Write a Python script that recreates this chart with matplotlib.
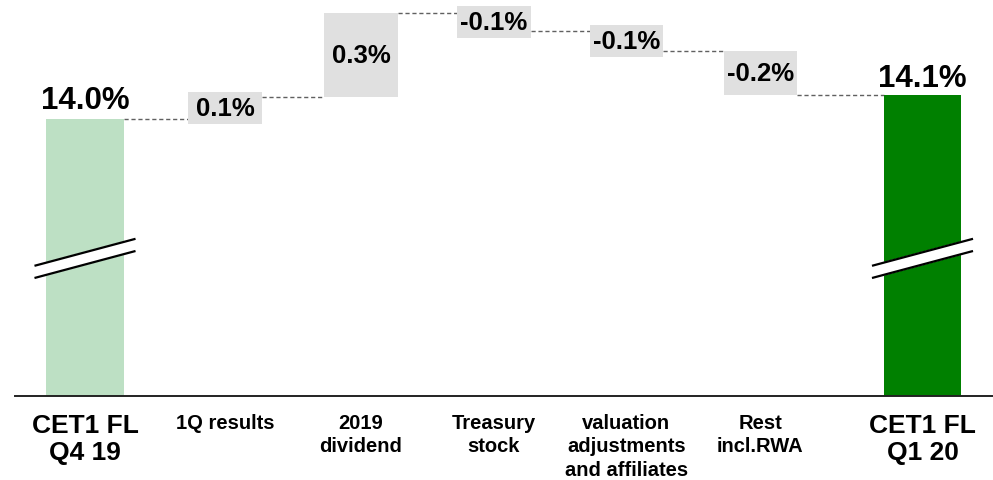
import matplotlib
matplotlib.use("Agg")
import matplotlib.pyplot as plt

plt.rcParams['font.family'] = ['Liberation Sans', 'DejaVu Sans']

# chart data
categories = ["CET1 FL\nQ4 19", "1Q results", "2019\ndividend", "Treasury\nstock",
              "valuation\nadjustments\nand affiliates", "Rest\nincl.RWA", "CET1 FL\nQ1 20"]
start_value = 14.04
deltas = [0.08, 0.30, -0.066, -0.07, -0.16]
end_value = start_value + sum(deltas)

# layout (category slot positions, not data)
xpos = [0, 1.045, 2.06, 3.05, 4.04, 5.04, 6.25]
PX = 280.0  # pixels per percentage point
end_w = 0.58
box_w = 0.55
min_box = 32 / PX

light_green = '#bde0c4'
dark_green = '#008000'
box_gray = '#e0e0e0'
line_gray = '#606060'

fig = plt.figure(figsize=(9.93, 4.81), dpi=100)
ax = fig.add_axes([15 / 993, 1 - 397 / 481, 978 / 993, 397 / 481])

ytop = start_value + 120 / PX
ax.set_ylim(ytop - 397 / PX, ytop)
ax.set_xlim((15 - 85) / 134, (993 - 85) / 134)

# start and end bars
ax.bar(xpos[0], start_value, width=end_w, color=light_green, zorder=2)
ax.bar(xpos[-1], end_value, width=end_w, color=dark_green, zorder=2)

ax.annotate(f"{start_value:.1f}%", xy=(xpos[0], start_value), xytext=(0, 8),
            textcoords='offset points', ha='center', va='baseline',
            fontsize=22.5, fontweight='bold')
ax.annotate(f"{end_value:.1f}%", xy=(xpos[-1], end_value), xytext=(0, 7),
            textcoords='offset points', ha='center', va='baseline',
            fontsize=22.5, fontweight='bold')

# step boxes
level = start_value
levels = [start_value]
widths = [end_w]
for i, d in enumerate(deltas):
    x = xpos[i + 1]
    lo, hi = level, level + d
    mid = (lo + hi) / 2
    h = max(abs(d), min_box)
    ax.bar(x, h, bottom=mid - h / 2, width=box_w, color=box_gray, zorder=2)
    ax.text(x, mid, f"{d:.1f}%", ha='center', va='center',
            fontsize=18.5, fontweight='bold', zorder=3)
    level = hi
    levels.append(level)
    widths.append(box_w)
widths.append(end_w)

# dashed connectors
for i in range(len(xpos) - 1):
    x0 = xpos[i] + widths[i] / 2
    x1 = xpos[i + 1] - widths[i + 1] / 2
    ax.plot([x0, x1], [levels[i], levels[i]], color=line_gray, lw=1,
            linestyle=(0, (3, 2)), zorder=1)


def draw_break(ax, xc, yc):
    dx = 0.377
    s = 27 / PX
    gap = 12.2 / PX
    up = [(xc - dx, yc + gap / 2 - s / 2), (xc + dx, yc + gap / 2 + s / 2)]
    dn = [(xc - dx, yc - gap / 2 - s / 2), (xc + dx, yc - gap / 2 + s / 2)]
    poly = up + dn[::-1]
    ax.fill([p[0] for p in poly], [p[1] for p in poly], color='white', zorder=4,
            clip_on=False)
    for ln in (up, dn):
        ax.plot([p[0] for p in ln], [p[1] for p in ln], color='black', lw=1.6,
                zorder=5, solid_capstyle='butt', clip_on=False)


ybreak = ytop - 259.4 / PX
draw_break(ax, xpos[0], ybreak)
draw_break(ax, xpos[-1], ybreak)

# axes styling
for side in ['top', 'right', 'left']:
    ax.spines[side].set_visible(False)
ax.spines['bottom'].set_linewidth(1.4)
ax.spines['bottom'].set_color('#222222')
ax.set_yticks([])
ax.set_xticks(xpos, categories)
ax.tick_params(axis='x', length=0, pad=12)
for i, lbl in enumerate(ax.get_xticklabels()):
    lbl.set_fontweight('bold')
    if i in (0, len(categories) - 1):
        lbl.set_fontsize(19)
        lbl.set_linespacing(1.2)
    else:
        lbl.set_fontsize(14.5)
        lbl.set_linespacing(1.3)

fig.savefig("out.png", dpi=100)
